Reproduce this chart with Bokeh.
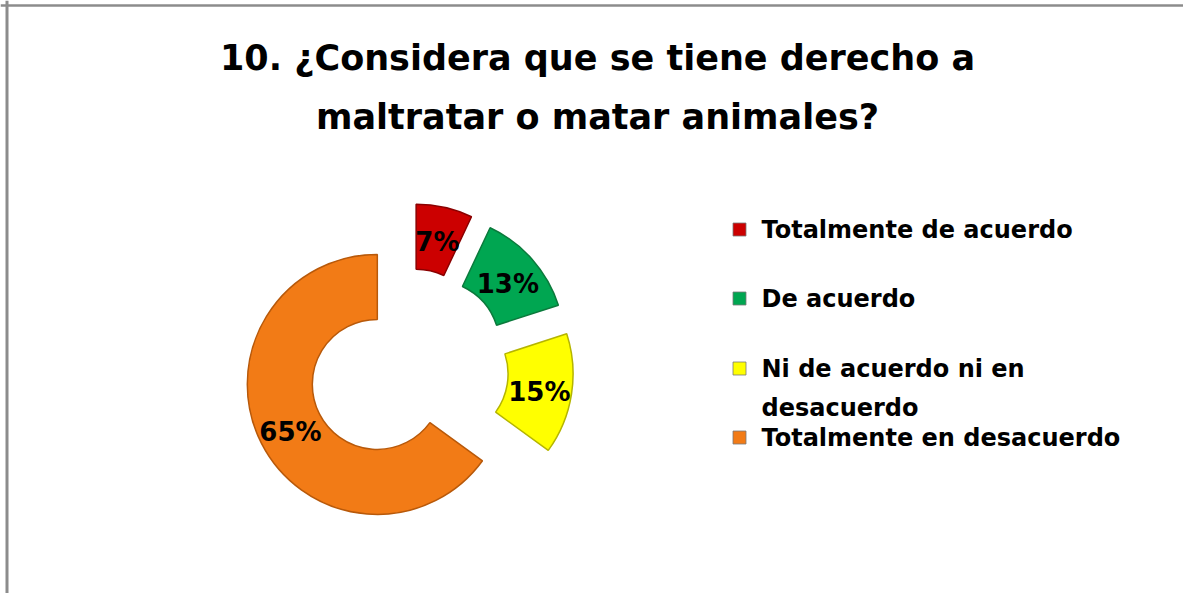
import math
from bokeh.plotting import figure
from bokeh.models import Range1d, Span, ColumnDataSource
from bokeh.core.properties import value
from bokeh.embed import file_html
from bokeh.resources import INLINE

# ---- data ----
title_lines = ["10. ¿Considera que se tiene derecho a", "maltratar o matar animales?"]
categories = ["Totalmente de acuerdo", "De acuerdo", "Ni de acuerdo ni en\ndesacuerdo", "Totalmente en desacuerdo"]
percents = [7, 13, 15, 65]
colors = ["#CC0000", "#00A651", "#FFFF00", "#F27B16"]
edge_colors = ["#8B0000", "#0B7A3C", "#B5B500", "#B8590A"]

# ---- layout (data units == screen pixels) ----
W, H = 1183, 593
CX, CY = 408, 225
R_OUT, R_IN = 130, 65
EXPLODE = 35
FONT = value("DejaVu Sans")

p = figure(width=W, height=H, output_backend="svg", toolbar_location=None,
           x_range=Range1d(0, W), y_range=Range1d(0, H), min_border=0,
           outline_line_color=None)
p.axis.visible = False
p.grid.visible = False
p.background_fill_color = "white"
p.border_fill_color = "white"

# donut slices
total = sum(percents)
xs, ys, starts, ends, lx, ly, labels = [], [], [], [], [], [], []
cum = 0.0
for v in percents:
    f0 = cum / total
    f1 = (cum + v) / total
    mid = 2 * math.pi * (f0 + f1) / 2  # clockwise from top
    cx = CX + EXPLODE * math.sin(mid)
    cy = CY + EXPLODE * math.cos(mid)
    xs.append(cx); ys.append(cy)
    starts.append(math.pi / 2 - 2 * math.pi * f0)
    ends.append(math.pi / 2 - 2 * math.pi * f1)
    rm = (R_IN + R_OUT) / 2
    lx.append(cx + rm * math.sin(mid))
    ly.append(cy + rm * math.cos(mid) - 3)
    labels.append(f"{v}%")
    cum += v

src = ColumnDataSource(dict(x=xs, y=ys, s=starts, e=ends, c=colors, lc=edge_colors,
                            lx=lx, ly=ly, t=labels))
p.annular_wedge(x="x", y="y", inner_radius=R_IN, outer_radius=R_OUT,
                start_angle="s", end_angle="e", direction="clock",
                fill_color="c", line_color="lc", line_width=1.5, source=src)
p.text(x="lx", y="ly", text="t", source=src, text_font=FONT, text_font_style="bold",
       text_font_size="26px", text_align="center", text_baseline="middle",
       text_color="black")

# title
p.text(x=[597, 597], y=[536, 477], text=title_lines, text_font=FONT,
       text_font_style="bold", text_font_size="35px", text_align="center",
       text_baseline="middle", text_color="black")

# legend
row_y = [364, 295, 225, 156]
line_gap = 39
mx, my, mc, tx, ty, tt = [], [], [], [], [], []
for cat, col, yy in zip(categories, colors, row_y):
    mx.append(739); my.append(yy); mc.append(col)
    for k, part in enumerate(cat.split("\n")):
        tx.append(761); ty.append(yy - k * line_gap); tt.append(part)
p.scatter(x=mx, y=my, marker="square", size=13, fill_color=mc, line_color="#7a7a7a",
          line_width=0.8)
p.text(x=tx, y=ty, text=tt, text_font=FONT, text_font_style="bold",
       text_font_size="24px", text_align="left", text_baseline="middle",
       text_color="black")

# chart border (left and top edges)
p.add_layout(Span(location=6.5, dimension="height", line_color="#8C8C8C", line_width=3))
p.add_layout(Span(location=H - 5, dimension="width", line_color="#8C8C8C", line_width=2.5))

open("out.html", "w").write(file_html(p, INLINE))
